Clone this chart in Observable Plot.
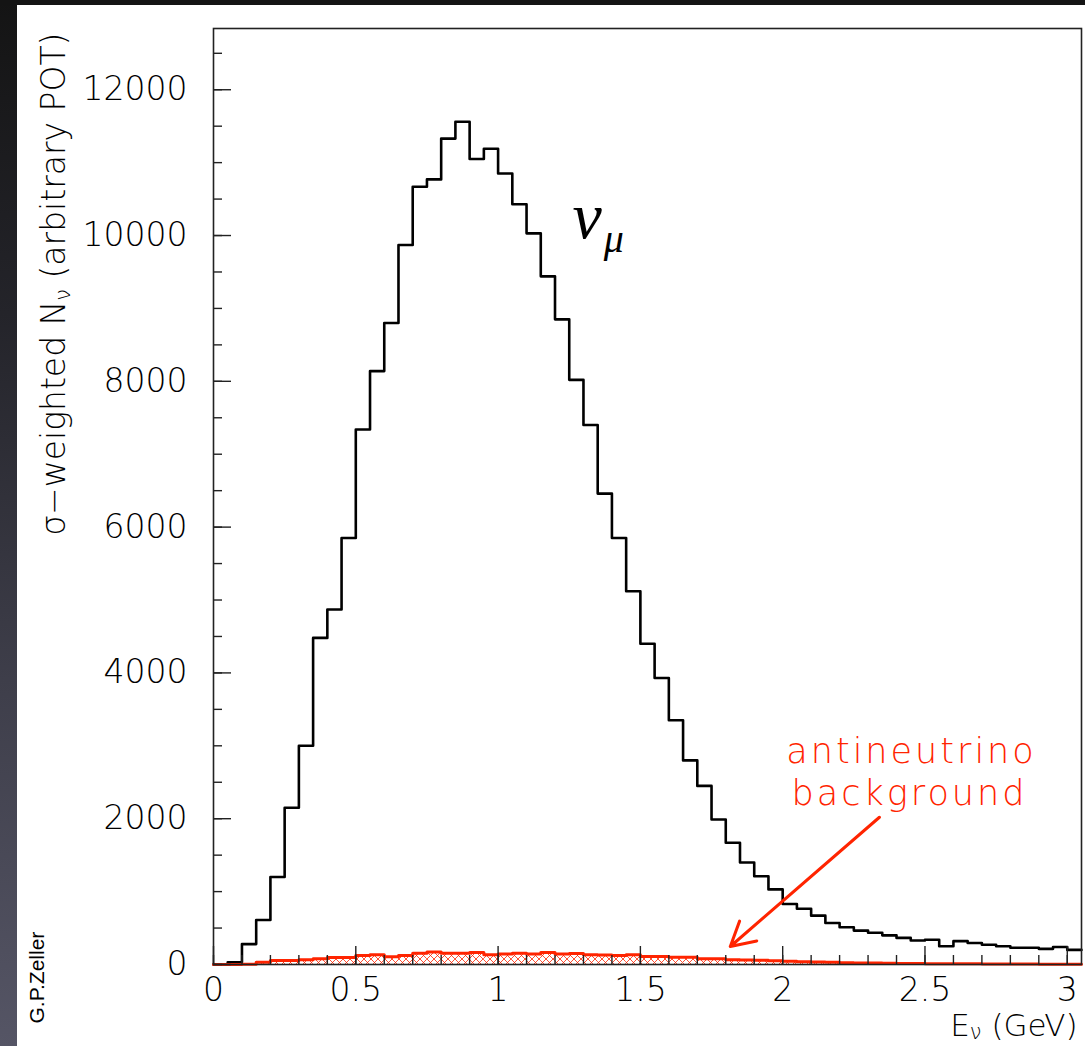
<!DOCTYPE html>
<html>
<head>
<meta charset="utf-8">
<script src="https://cdn.jsdelivr.net/npm/d3@7"></script>
<script src="https://cdn.jsdelivr.net/npm/@observablehq/plot@0.6"></script>
<style>
html, body { margin: 0; padding: 0; background: #fff; }
#wrap { position: relative; width: 1085px; height: 1046px; overflow: hidden; background: #fff; }
#chart { position: absolute; left: 0; top: 0; }
#leftStrip { position: absolute; left: 0; top: 0; width: 17px; height: 1046px;
  background: linear-gradient(#141414, #24242a 30%, #3e3e4a 65%, #555565); }
#topStrip { position: absolute; left: 0; top: 0; width: 1085px; height: 5px; background: #141414; }
</style>
</head>
<body>
<div id="wrap"><div id="chart"></div><div id="leftStrip"></div><div id="topStrip"></div></div>
<script>
// ---- data ----
const binWidth = 0.05; // GeV
const binLow = d3.range(61).map(i => +(i * binWidth).toFixed(2)); // lower bin edges 0 .. 3.00
// nu_mu, sigma-weighted events per bin
const numu = [
  0, 30, 280, 610, 1200, 2150, 3000, 4480, 4870, 5850,
  7340, 8140, 8800, 9870, 10670, 10770, 11330, 11560, 11050, 11190,
  10850, 10430, 10030, 9440, 8850, 8020, 7400, 6460, 5850, 5120,
  4400, 3930, 3350, 2800, 2450, 1990, 1670, 1400, 1210, 1030,
  830, 765, 670, 570, 510, 465, 435, 400, 365, 330,
  340, 250, 320, 295, 270, 250, 230, 230, 215, 240,
  200
];
// antineutrino background per bin
const nubar = [
  0, 0, 5, 30, 55, 55, 65, 80, 95, 95,
  125, 135, 105, 125, 155, 170, 155, 155, 165, 135,
  145, 155, 145, 165, 145, 150, 135, 130, 125, 135,
  110, 110, 100, 100, 78, 78, 64, 62, 60, 50,
  45, 38, 35, 32, 25, 22, 20, 18, 15, 14,
  12, 12, 10, 9, 8, 7, 6, 6, 5, 5,
  4
];
const xMajorTicks = [0, 0.5, 1, 1.5, 2, 2.5, 3];
const xMinorTicks = d3.range(31).map(i => i / 10);
const yMajorTicks = [0, 2000, 4000, 6000, 8000, 10000, 12000];
const yMinorTicks = d3.range(26).map(i => i * 500);
const yTitle = "σ−weighted N_ν (arbitrary POT)";
const xTitle = "E_ν (GeV)";
const curveLabel = "ν_μ";
const bgLabel = ["antineutrino", "background"];
const author = "G.P.Zeller";
const arrowData = [{x1: 2.34, y1: 2020, x2: 1.816, y2: 247}];

// ---- derived tables ----
const RED = "#ff2400";
function stepPoints(vals) {
  const pts = [{x: 0, v: 0}];
  vals.forEach((v, i) => pts.push({x: binLow[i], v}));
  pts.push({x: binLow[binLow.length - 1] + binWidth, v: vals[vals.length - 1]});
  return pts;
}
const numuSteps = stepPoints(numu);
const nubarSteps = stepPoints(nubar);
const nubarBins = nubar.map((v, i) => ({x1: binLow[i], x2: binLow[i] + binWidth, v}));

const W = 1085, H = 1046;
const mL = 213, mT = 28, mR = 4, mB = 82;
const plotW = W - mL - mR, plotH = H - mT - mB;
const LIGHT = 300;

const chart = Plot.plot({
  width: W, height: H,
  marginLeft: mL, marginTop: mT, marginRight: mR, marginBottom: mB,
  style: {fontFamily: "DejaVu Sans", background: "white", color: "black"},
  x: {domain: [0, 3.05]},
  y: {domain: [0, 12840]},
  marks: [
    Plot.rectY(nubarBins, {x1: "x1", x2: "x2", y: "v", fill: "url(#xhatch)"}),
    Plot.line(numuSteps, {x: "x", y: "v", curve: "step-after", stroke: "black", strokeWidth: 2.6}),
    Plot.line(nubarSteps, {x: "x", y: "v", curve: "step-after", stroke: RED, strokeWidth: 3}),
    Plot.frame({stroke: "#222", strokeWidth: 1.6}),
    Plot.ruleX(xMinorTicks, {x: d => d, insetTop: plotH - 9, stroke: "#222", strokeWidth: 1.4}),
    Plot.ruleX(xMajorTicks, {x: d => d, insetTop: plotH - 18, stroke: "#222", strokeWidth: 1.4}),
    Plot.ruleY(yMinorTicks, {y: d => d, insetRight: plotW - 9, stroke: "#222", strokeWidth: 1.4}),
    Plot.ruleY(yMajorTicks, {y: d => d, insetRight: plotW - 18, stroke: "#222", strokeWidth: 1.4}),
    Plot.axisX({ticks: xMajorTicks, tickSize: 0, tickPadding: 13, fontSize: 33, fontWeight: LIGHT, tickFormat: d => String(d), label: null}),
    Plot.axisY({ticks: yMajorTicks, tickSize: 0, tickPadding: 26, fontSize: 33, fontWeight: LIGHT, tickFormat: d => String(d), label: null}),
    Plot.arrow(arrowData, {x1: "x1", y1: "y1", x2: "x2", y2: "y2", stroke: RED, strokeWidth: 3, headLength: 13.5, headAngle: 58}),
    Plot.text([yTitle], {text: d => d, frameAnchor: "top-left", dx: 64 - mL, dy: 32 - mT, rotate: -90,
      textAnchor: "end", lineAnchor: "bottom", fontSize: 33, fontWeight: LIGHT, fill: "black"}),
    Plot.text([xTitle], {text: d => d, frameAnchor: "bottom-right", dx: -4, dy: 71,
      textAnchor: "end", lineAnchor: "bottom", fontSize: 31, fontWeight: LIGHT, fill: "black"}),
    Plot.text([curveLabel], {text: d => d, frameAnchor: "top-left", dx: 572 - mL, dy: 237 - mT,
      textAnchor: "start", lineAnchor: "bottom", fontSize: 66, fontStyle: "italic", fontFamily: "Liberation Serif", fill: "black"}),
    Plot.text([bgLabel[0]], {text: d => d, frameAnchor: "top-left", dx: 911 - mL, dy: 762 - mT,
      textAnchor: "middle", lineAnchor: "bottom", fontSize: 35, fontWeight: LIGHT, fill: RED}),
    Plot.text([bgLabel[1]], {text: d => d, frameAnchor: "top-left", dx: 909 - mL, dy: 804 - mT,
      textAnchor: "middle", lineAnchor: "bottom", fontSize: 35, fontWeight: LIGHT, fill: RED}),
    Plot.text([author], {text: d => d, frameAnchor: "top-left", dx: 43 - mL, dy: 1023 - mT, rotate: -90,
      textAnchor: "start", lineAnchor: "bottom", fontSize: 21, fontFamily: "Liberation Sans", fill: "black"})
  ]
});

// hatch pattern for the antineutrino histogram
const svg = d3.select(chart);
const defs = svg.insert("defs", ":first-child");
const pat = defs.append("pattern").attr("id", "xhatch").attr("patternUnits", "userSpaceOnUse")
  .attr("width", 7).attr("height", 7);
pat.append("path").attr("d", "M0,0L7,7M0,7L7,0").attr("stroke", RED).attr("stroke-width", 0.8).attr("fill", "none");

// subscripts (text written as "X_y")
svg.selectAll("text").each(function() {
  const s = this.textContent;
  if (!s.includes("_")) return;
  const isCurve = s === curveLabel;
  const isX = s === xTitle;
  const subSize = isCurve ? 40 : 21;
  const shift = isCurve ? 14 : (isX ? 3 : 5);
  const parts = s.split(/_(.)/);
  const t = d3.select(this);
  t.text(null);
  let shifted = false;
  parts.forEach((p, i) => {
    if (!p) return;
    if (i % 2 === 1) {
      t.append("tspan").attr("dy", shift).attr("font-size", subSize).attr("dx", isCurve ? 2 : 0).text(p);
      shifted = true;
    } else {
      const ts = t.append("tspan").text(p);
      if (shifted) { ts.attr("dy", -shift); shifted = false; }
    }
  });
});
// wide spacing of the red annotation
svg.selectAll("text").filter(function() { return bgLabel.includes(this.textContent); })
  .attr("letter-spacing", 3);

document.getElementById("chart").appendChild(chart);
</script>
</body>
</html>
